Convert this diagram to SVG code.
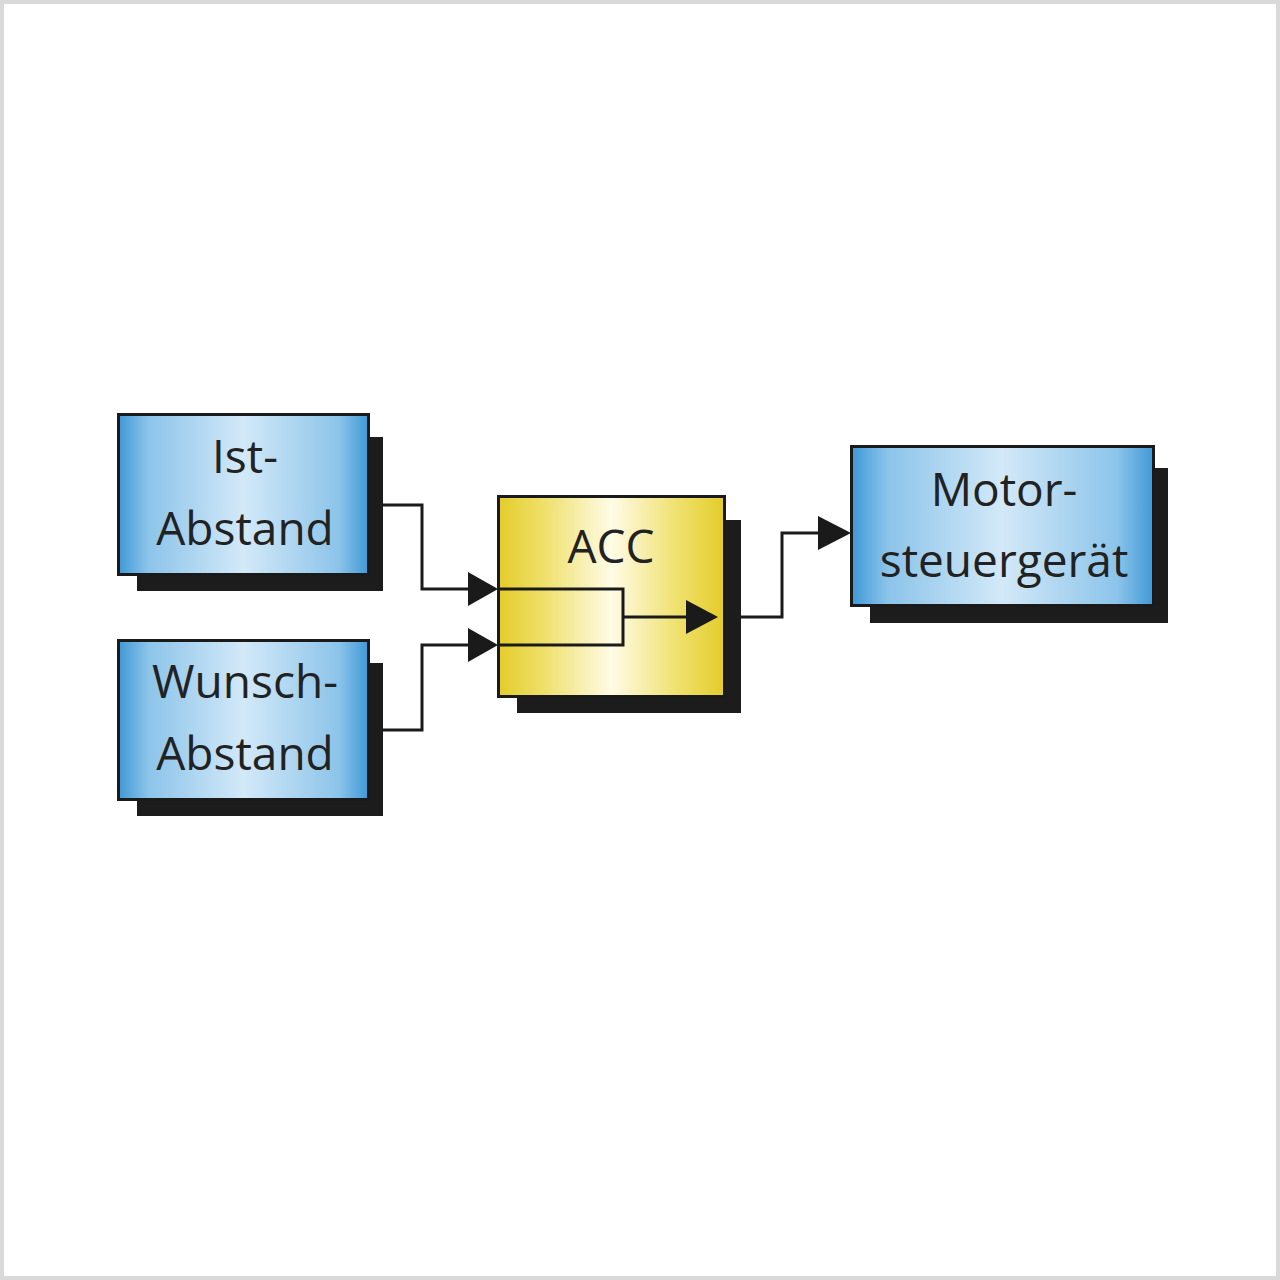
<svg xmlns="http://www.w3.org/2000/svg" width="1280" height="1280" viewBox="0 0 1280 1280">
<defs>
<linearGradient id="blue" x1="0" y1="0" x2="1" y2="0">
<stop offset="0" stop-color="#3f98d6"/>
<stop offset="0.12" stop-color="#8cc4ea"/>
<stop offset="0.5" stop-color="#d3e9f8"/>
<stop offset="0.88" stop-color="#8cc4ea"/>
<stop offset="1" stop-color="#3f98d6"/>
</linearGradient>
<linearGradient id="yellow" x1="0" y1="0" x2="1" y2="0">
<stop offset="0" stop-color="#e3cc2a"/>
<stop offset="0.2" stop-color="#efe06a"/>
<stop offset="0.5" stop-color="#fffbe6"/>
<stop offset="0.8" stop-color="#efe06a"/>
<stop offset="1" stop-color="#e3cc2a"/>
</linearGradient>
<marker id="arr" markerWidth="10" markerHeight="11" refX="10" refY="5.5" orient="auto" markerUnits="userSpaceOnUse" viewBox="0 0 10 11">
<path d="M0,0 L10,5.5 L0,11 Z" fill="#1a1a1a"/>
</marker>
</defs>
<style>
.shadow{fill:#1c1c1c}
.box{stroke:#1a1a1a;stroke-width:3}
.lbl{font-family:"Open Sans","Noto Sans",sans-serif;font-size:46px;fill:#222;text-anchor:middle}
.wire{fill:none;stroke:#1a1a1a;stroke-width:3}
.head{fill:#1a1a1a}
</style>
<rect x="2" y="2" width="1276" height="1276" fill="#fff" stroke="#d9d9d9" stroke-width="4"/>

<g id="ist-abstand">
<rect class="shadow" x="137" y="437" width="246" height="154"/>
<rect class="box" x="118.5" y="414.5" width="250" height="160" fill="url(#blue)"/>
<text class="lbl" x="245" y="473">Ist-</text>
<text class="lbl" x="245" y="545">Abstand</text>
</g>

<g id="wunsch-abstand">
<rect class="shadow" x="137" y="663" width="246" height="153"/>
<rect class="box" x="118.5" y="640.5" width="250" height="159" fill="url(#blue)"/>
<text class="lbl" x="245" y="698">Wunsch-</text>
<text class="lbl" x="245" y="770">Abstand</text>
</g>

<g id="acc">
<rect class="shadow" x="517" y="520" width="224" height="193"/>
<rect class="box" x="498.5" y="496.5" width="226" height="200" fill="url(#yellow)"/>
<text class="lbl" x="611" y="563">ACC</text>
</g>

<g id="motorsteuergeraet">
<rect class="shadow" x="870" y="468" width="298" height="155"/>
<rect class="box" x="851.5" y="446.5" width="302" height="159" fill="url(#blue)"/>
<text class="lbl" x="1004" y="506">Motor-</text>
<text class="lbl" x="1004" y="577">steuergerät</text>
</g>

<g id="connectors">
<polyline class="wire" points="383,505 422,505 422,589 470,589"/>
<polygon class="head" points="468,572 498,589 468,606"/>
<polyline class="wire" points="383,730 422,730 422,645 470,645"/>
<polygon class="head" points="468,628 498,645 468,662"/>
<polyline class="wire" points="498,589 623,589 623,645 498,645"/>
<polyline class="wire" points="623,617 688,617"/>
<polygon class="head" points="686,600 718,617 686,634"/>
<polyline class="wire" points="741,617 782,617 782,533 820,533"/>
<polygon class="head" points="818,516 851,533 818,550"/>
</g>
</svg>
